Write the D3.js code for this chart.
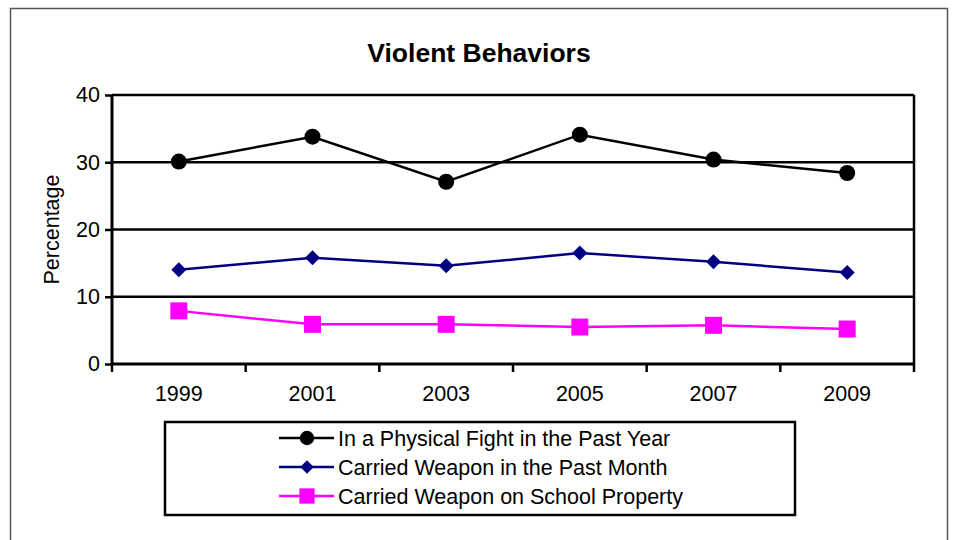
<!DOCTYPE html>
<html>
<head>
<meta charset="utf-8">
<script src="https://cdn.jsdelivr.net/npm/d3@7"></script>
<style>
  body { margin: 0; background: #fff; }
  svg { display: block; font-family: 'Liberation Sans', Arial, sans-serif; }
</style>
</head>
<body>
<script>
const years = ['1999', '2001', '2003', '2005', '2007', '2009']
const fight = [30.1, 33.8, 27.1, 34.1, 30.4, 28.4]
const weapon = [14.0, 15.8, 14.6, 16.5, 15.2, 13.6]
const school = [7.9, 5.9, 5.9, 5.5, 5.75, 5.2]
const yTicks = [0, 10, 20, 30, 40]
const seriesNames = [
  'In a Physical Fight in the Past Year',
  'Carried Weapon in the Past Month',
  'Carried Weapon on School Property',
]

const width = 954
const height = 540
const plot = { left: 112, right: 914, top: 95, bottom: 364 }

const series = [
  { name: seriesNames[0], values: fight, color: '#000000', shape: 'circle' },
  { name: seriesNames[1], values: weapon, color: '#000080', shape: 'diamond' },
  { name: seriesNames[2], values: school, color: '#ff00ff', shape: 'square' },
]

const x = d3.scaleBand().domain(years).range([plot.left, plot.right])
const y = d3.scaleLinear().domain([0, 40]).range([plot.bottom, plot.top])

const svg = d3.select('body').append('svg').attr('width', width).attr('height', height)

// outer chart frame
svg
  .append('rect')
  .attr('x', 10.5)
  .attr('y', 8.5)
  .attr('width', 937)
  .attr('height', 545)
  .attr('fill', 'none')
  .attr('stroke', '#555')
  .attr('stroke-width', 1.5)

svg
  .append('text')
  .attr('x', 479)
  .attr('y', 62)
  .attr('text-anchor', 'middle')
  .attr('font-size', 26.5)
  .attr('font-weight', 'bold')
  .text('Violent Behaviors')

// grid lines
svg
  .append('g')
  .selectAll('line')
  .data(yTicks.slice(1))
  .join('line')
  .attr('x1', plot.left)
  .attr('x2', plot.right)
  .attr('y1', d => y(d))
  .attr('y2', d => y(d))
  .attr('stroke', '#000')
  .attr('stroke-width', 2.5)

// right border of plot area
svg
  .append('line')
  .attr('x1', plot.right)
  .attr('x2', plot.right)
  .attr('y1', plot.top)
  .attr('y2', plot.bottom)
  .attr('stroke', '#000')
  .attr('stroke-width', 2.5)

const yAxis = d3.axisLeft(y).tickValues(yTicks).tickSize(7).tickPadding(5)
svg
  .append('g')
  .attr('transform', `translate(${plot.left},0)`)
  .call(yAxis)
  .call(g => g.select('.domain').attr('stroke-width', 3).attr('d', `M0,${plot.top}V${plot.bottom}`))
  .call(g => g.selectAll('line').attr('stroke-width', 2.5))
  .call(g => g.selectAll('text').attr('font-size', 21.5).attr('fill', '#000').attr('font-family', null))

const xAxis = d3.axisBottom(x).tickSize(0).tickPadding(22)
svg
  .append('g')
  .attr('transform', `translate(0,${plot.bottom})`)
  .call(xAxis)
  .call(g => g.select('.domain').attr('stroke-width', 3).attr('d', `M${plot.left},0H${plot.right}`))
  .call(g => g.selectAll('text').attr('font-size', 21.5).attr('fill', '#000').attr('font-family', null))

// tick marks between categories
svg
  .append('g')
  .selectAll('line')
  .data(years.map(d => x(d)).concat([plot.right]))
  .join('line')
  .attr('x1', d => d)
  .attr('x2', d => d)
  .attr('y1', plot.bottom)
  .attr('y2', plot.bottom + 8)
  .attr('stroke', '#000')
  .attr('stroke-width', 2.5)

svg
  .append('text')
  .attr('transform', `translate(51,${(plot.top + plot.bottom) / 2}) rotate(-90)`)
  .attr('text-anchor', 'middle')
  .attr('dy', '0.35em')
  .attr('font-size', 21.5)
  .text('Percentage')

const cx = d => x(d) + x.bandwidth() / 2
const line = d3
  .line()
  .x((d, i) => cx(years[i]))
  .y(d => y(d))

function drawMarker(g, shape, color, k = 1) {
  if (shape === 'circle') {
    g.append('circle').attr('r', 8 * k).attr('fill', color)
  } else if (shape === 'diamond') {
    const h = 7.5 * k
    g.append('path').attr('d', `M0,${-h}L${h},0L0,${h}L${-h},0Z`).attr('fill', color)
  } else {
    const h = 8.5 * k
    g.append('rect').attr('x', -h).attr('y', -h).attr('width', 2 * h).attr('height', 2 * h).attr('fill', color)
  }
}

series.forEach(s => {
  svg
    .append('path')
    .attr('d', line(s.values))
    .attr('fill', 'none')
    .attr('stroke', s.color)
    .attr('stroke-width', 2.5)
  s.values.forEach((v, i) => {
    const g = svg.append('g').attr('transform', `translate(${cx(years[i])},${y(v)})`)
    drawMarker(g, s.shape, s.color)
  })
})

// legend
const legend = svg.append('g')
legend
  .append('rect')
  .attr('x', 165)
  .attr('y', 422)
  .attr('width', 630)
  .attr('height', 93)
  .attr('fill', '#fff')
  .attr('stroke', '#000')
  .attr('stroke-width', 2.5)

series.forEach((s, i) => {
  const row = legend.append('g').attr('transform', `translate(0,${438 + i * 29})`)
  row
    .append('line')
    .attr('x1', 279)
    .attr('x2', 334)
    .attr('stroke', s.color)
    .attr('stroke-width', 2.5)
  drawMarker(row.append('g').attr('transform', 'translate(307,0)'), s.shape, s.color, 0.9)
  row
    .append('text')
    .attr('x', 338)
    .attr('dy', '0.36em')
    .attr('font-size', 21.5)
    .text(s.name)
})
</script>
</body>
</html>
